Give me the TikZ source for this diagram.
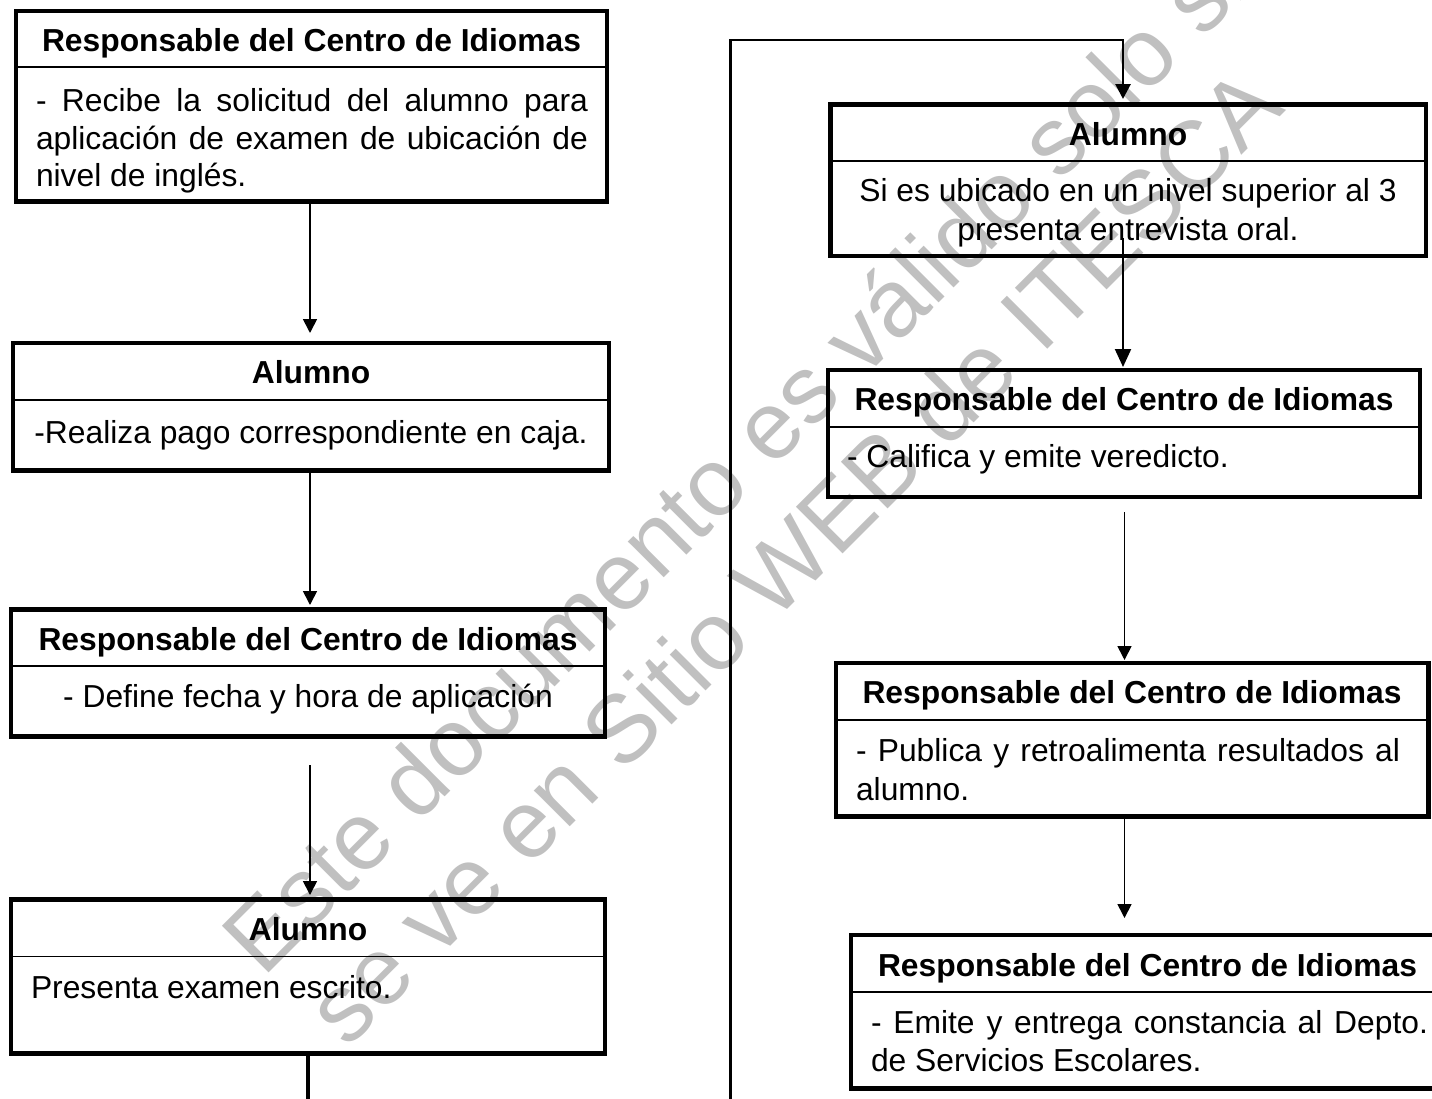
\documentclass[tikz,border=0pt]{standalone}
\usepackage{fontspec}
\setmainfont{Liberation Sans}
\usetikzlibrary{arrows.meta,calc}
\definecolor{wmgray}{RGB}{192,192,192}
\tikzset{
  boxframe/.style={draw=black, line width=4.5pt, inner sep=0pt, outer sep=0pt, rectangle, anchor=north west},
  divline/.style={draw=black, line width=1.8pt},
  hdr/.style={inner sep=0pt, outer sep=0pt, anchor=base, font=\fontsize{31.8}{38}\selectfont\bfseries},
  bodyl/.style={inner sep=0pt, outer sep=0pt, anchor=base west, font=\fontsize{31.8}{38}\selectfont},
  bodyc/.style={inner sep=0pt, outer sep=0pt, anchor=base, font=\fontsize{31.8}{38}\selectfont},
  conn/.style={draw=black, line width=1.7pt, -{Triangle[width=14pt,length=14pt]}},
  bigconn/.style={draw=black, line width=2pt, -{Triangle[width=16pt,length=18pt]}},
  loopline/.style={draw=black, line width=2.8pt, -{Triangle[width=15pt,length=15pt]}},
  tailline/.style={draw=black, line width=3.5pt},
  wm/.style={text=wmgray, inner sep=0pt, anchor=base west, rotate=45, font=\fontsize{96}{110}\selectfont},
}
\begin{document}
\begin{tikzpicture}[x=1pt,y=-1pt]
\useasboundingbox (0,0) rectangle (1432,1098);

% watermark
\node[wm] (wm1) at (263,979) {Este documento es válido solo si};
\node[wm] (wm2) at (347,1050) {se ve en Sitio WEB de ITESCA};

% left column boxes
\node[boxframe, minimum width=591pt, minimum height=190.5pt] (A1) at (16,11) {};
\draw[divline] (16,66.7) -- (607,66.7);
\node[hdr] (A1h) at (311.5,51.5) {Responsable del Centro de Idiomas};
\node[bodyl] (A1b1) at (36,111.5) {\makebox[552pt][s]{- Recibe la solicitud del alumno para}};
\node[bodyl] (A1b2) at (36,149) {\makebox[552pt][s]{aplicación de examen de ubicación de}};
\node[bodyl] (A1b3) at (36,186.5) {nivel de inglés.};

\node[boxframe, minimum width=596pt, minimum height=127.5pt] (A2) at (13,343) {};
\draw[divline] (13,400) -- (609,400);
\node[hdr] (A2h) at (311,383.5) {Alumno};
\node[bodyc] (A2b1) at (311,443) {-Realiza pago correspondiente en caja.};

\node[boxframe, minimum width=594pt, minimum height=127pt] (A3) at (11,609.5) {};
\draw[divline] (11,666) -- (605,666);
\node[hdr] (A3h) at (308,650) {Responsable del Centro de Idiomas};
\node[bodyc] (A3b1) at (308,707) {- Define fecha y hora de aplicación};

\node[boxframe, minimum width=594pt, minimum height=153.8pt] (A4) at (11,899.5) {};
\draw[divline] (11,956.5) -- (605,956.5);
\node[hdr] (A4h) at (308,940) {Alumno};
\node[bodyl] (A4b1) at (31,998.5) {Presenta examen escrito.};

% right column boxes
\node[boxframe, minimum width=595.5pt, minimum height=151.5pt] (B1) at (830.5,104.5) {};
\draw[divline] (830.5,161) -- (1426,161);
\node[hdr] (B1h) at (1128,145) {Alumno};
\node[bodyc] (B1b1) at (1128,201.7) {Si es ubicado en un nivel superior al 3};
\node[bodyc] (B1b2) at (1128,240) {presenta entrevista oral.};

\node[boxframe, minimum width=592pt, minimum height=127pt] (B2) at (828,370) {};
\draw[divline] (828,427) -- (1420,427);
\node[hdr] (B2h) at (1124,410.5) {Responsable del Centro de Idiomas};
\node[bodyl] (B2b1) at (847,467.5) {- Califica y emite veredicto.};

\node[boxframe, minimum width=592.5pt, minimum height=153.5pt] (B3) at (836,663) {};
\draw[divline] (836,720) -- (1428.5,720);
\node[hdr] (B3h) at (1132,703.5) {Responsable del Centro de Idiomas};
\node[bodyl] (B3b1) at (856,761.7) {\makebox[544pt][s]{- Publica y retroalimenta resultados al}};
\node[bodyl] (B3b2) at (856,800) {alumno.};

\node[boxframe, minimum width=593pt, minimum height=153.5pt] (B4) at (851,935) {};
\draw[divline] (851,991.7) -- (1444,991.7);
\node[hdr] (B4h) at (1147.5,976) {Responsable del Centro de Idiomas};
\node[bodyl] (B4b1) at (871,1033) {\makebox[557pt][s]{- Emite y entrega constancia al Depto.}};
\node[bodyl] (B4b2) at (871,1071.5) {de Servicios Escolares.};

% connectors left
\draw[conn] (A1.south -| 310,0) -- ($(A2.north -| 310,0)+(0,-10)$);
\draw[conn] (A2.south -| 310,0) -- ($(A3.north -| 310,0)+(0,-4.5)$);
\draw[conn] ($(A3.south -| 310,0)+(0,28.5)$) -- ($(A4.north -| 310,0)+(0,-4.5)$);
\coordinate (tailend) at (308,1104);
\draw[tailline] (A4.south -| tailend) -- (tailend);

% loop
\coordinate (loopS) at (730.5,1104);
\coordinate (loopT) at (1123,40);
\draw[loopline] (loopS) |- (loopT) -- ($(B1.north -| loopT)+(0,-5.5)$);

% connectors right
\draw[bigconn] ($(B1.south -| 1123,0)+(0,-18)$) -- ($(B2.north -| 1123,0)+(0,-3)$);
\draw[conn] ($(B2.south -| 1124.5,0)+(0,15)$) -- ($(B3.north -| 1124.5,0)+(0,-3)$);
\draw[conn] (B3.south -| 1124.5,0) -- ($(B4.north -| 1124.5,0)+(0,-17)$);
\end{tikzpicture}
\end{document}
